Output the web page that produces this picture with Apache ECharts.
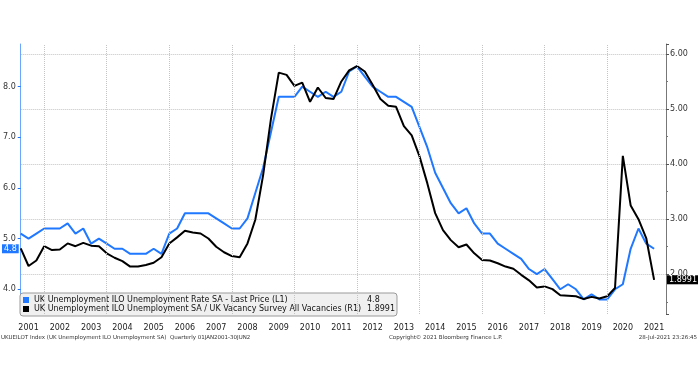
<!DOCTYPE html>
<html><head><meta charset="utf-8">
<script src="https://cdn.jsdelivr.net/npm/echarts@6/dist/echarts.min.js"></script>
<style>html,body{margin:0;padding:0;background:#fff}#c{width:698px;height:386px}</style>
</head><body><div id="c"></div>
<script>
// Quarterly, 2001 Q1 .. 2021 Q2
const unemploymentRate = [
  5.1, 5.0, 5.1, 5.2, 5.2, 5.2, 5.3, 5.1, 5.2, 4.9,
  5.0, 4.9, 4.8, 4.8, 4.7, 4.7, 4.7, 4.8, 4.7, 5.1,
  5.2, 5.5, 5.5, 5.5, 5.5, 5.4, 5.3, 5.2, 5.2, 5.4,
  5.9, 6.4, 7.1, 7.8, 7.8, 7.8, 8.0, 7.9, 7.8, 7.9,
  7.8, 7.9, 8.3, 8.4, 8.2, 8.0, 7.9, 7.8, 7.8, 7.7,
  7.6, 7.2, 6.8, 6.3, 6.0, 5.7, 5.5, 5.6, 5.3, 5.1,
  5.1, 4.9, 4.8, 4.7, 4.6, 4.4, 4.3, 4.4, 4.2, 4.0,
  4.1, 4.0, 3.8, 3.9, 3.8, 3.8, 4.0, 4.1, 4.8, 5.2,
  4.9, 4.8
];
const unemployedPerVacancy = [
  2.47, 2.15, 2.25, 2.51, 2.44, 2.45, 2.56, 2.51, 2.57, 2.52,
  2.51, 2.38, 2.30, 2.24, 2.14, 2.14, 2.17, 2.21, 2.31, 2.56,
  2.67, 2.79, 2.76, 2.74, 2.65, 2.50, 2.40, 2.33, 2.31, 2.56,
  2.99, 3.80, 4.82, 5.66, 5.62, 5.42, 5.48, 5.13, 5.39, 5.20,
  5.18, 5.50, 5.70, 5.78, 5.68, 5.44, 5.18, 5.06, 5.04, 4.69,
  4.52, 4.14, 3.65, 3.11, 2.80, 2.62, 2.49, 2.54, 2.38, 2.26,
  2.25, 2.20, 2.14, 2.10, 1.99, 1.89, 1.76, 1.78, 1.73, 1.62,
  1.61, 1.60, 1.55, 1.59, 1.56, 1.60, 1.75, 4.15, 3.25, 3.00,
  2.65, 1.8991
];
const yearLabels = ['2001','2002','2003','2004','2005','2006','2007','2008','2009','2010',
  '2011','2012','2013','2014','2015','2016','2017','2018','2019','2020','2021'];
const gridYears = [2002, 2004, 2006, 2008, 2010, 2012, 2014, 2016, 2018, 2020];
const seriesNames = [
  'UK Unemployment ILO Unemployment Rate SA - Last Price (L1)',
  'UK Unemployment ILO Unemployment SA / UK Vacancy Survey All Vacancies (R1)'
];
const lastLabels = ['4.8', '1.8991'];

const FONT = 'DejaVu Sans';
const BLUE = '#1f78ff';
const firstQuarterEnd = 2001.25;
const xs = unemploymentRate.map((_, i) => firstQuarterEnd + i * 0.25);

const chart = echarts.init(document.getElementById('c'));
chart.setOption({
  animation: false,
  backgroundColor: '#fff',
  grid: { left: 18, right: 32, top: 44, bottom: 72 },
  legend: {
    orient: 'vertical', left: 20, top: 293,
    padding: [3, 2, 3, 3], itemGap: 1,
    backgroundColor: '#f0f0f0', borderColor: '#9a9a9a', borderWidth: 1, borderRadius: 3,
    icon: 'rect', itemWidth: 6, itemHeight: 6,
    data: seriesNames,
    formatter: name => '{n|' + name + '}{v|' + lastLabels[seriesNames.indexOf(name)] + '}',
    textStyle: {
      fontFamily: FONT, fontSize: 8, color: '#111',
      rich: {
        n: { width: 333, fontFamily: FONT, fontSize: 8, color: '#111' },
        v: { fontFamily: FONT, fontSize: 8, color: '#111' }
      }
    }
  },
  xAxis: {
    type: 'value', min: 2001.25, max: 2021.88, interval: 0.25,
    axisLine: { show: false }, axisTick: { show: false }, splitLine: { show: false },
    axisLabel: {
      fontFamily: FONT, fontSize: 8, color: '#222', margin: 10, showMaxLabel: false,
      formatter: v => {
        const f = v - Math.floor(v);
        return Math.abs(f - 0.5) < 1e-6 ? (yearLabels[Math.floor(v) - 2001] || '') : '';
      }
    }
  },
  yAxis: [
    {
      type: 'value', position: 'left', min: 3.512, max: 8.843,
      axisLine: { show: true, lineStyle: { color: '#6aa6ff', width: 1 } },
      axisTick: { show: true, length: 3, lineStyle: { color: BLUE } },
      axisLabel: { fontFamily: FONT, fontSize: 8, color: '#333', margin: 5,
        showMinLabel: false, showMaxLabel: false, formatter: v => v.toFixed(1) },
      splitLine: { show: false }
    },
    {
      type: 'value', position: 'right', min: 1.279, max: 6.18,
      axisLine: { show: true, lineStyle: { color: '#777', width: 1 } },
      axisTick: { show: true, length: 3, lineStyle: { color: '#555' } },
      minorTick: { show: true, splitNumber: 2, length: 2, lineStyle: { color: '#777' } },
      axisLabel: { fontFamily: FONT, fontSize: 8, color: '#333', margin: 4,
        showMinLabel: false, showMaxLabel: false, formatter: v => v.toFixed(2) },
      splitLine: { show: true, showMinLine: false, showMaxLine: false,
        lineStyle: { type: 'dotted', color: '#c4c4c4', width: 1 } }
    }
  ],
  series: [
    {
      type: 'line', data: [], z: 1, silent: true,
      markLine: {
        silent: true, symbol: ['none', 'none'], label: { show: false },
        lineStyle: { type: 'dotted', color: '#c4c4c4', width: 1 },
        data: gridYears.map(y => ({ xAxis: y }))
      }
    },
    {
      name: seriesNames[0], type: 'line', yAxisIndex: 0, showSymbol: false, symbol: 'none',
      data: xs.map((x, i) => [x, unemploymentRate[i]]),
      lineStyle: { color: BLUE, width: 2 }, itemStyle: { color: BLUE }, z: 3,
      markLine: {
        silent: true, symbol: ['none', 'none'],
        lineStyle: { color: 'rgba(0,0,0,0)', width: 0 },
        data: [{ yAxis: unemploymentRate[unemploymentRate.length - 1] }],
        label: { show: true, position: 'start', distance: 2, formatter: lastLabels[0],
          backgroundColor: BLUE, color: '#fff', padding: [1, 2, 0, 2],
          fontFamily: FONT, fontSize: 8 }
      }
    },
    {
      name: seriesNames[1], type: 'line', yAxisIndex: 1, showSymbol: false, symbol: 'none',
      data: xs.map((x, i) => [x, unemployedPerVacancy[i]]),
      lineStyle: { color: '#000', width: 2 }, itemStyle: { color: '#000' }, z: 4,
      markLine: {
        silent: true, symbol: ['none', 'none'],
        lineStyle: { color: 'rgba(0,0,0,0)', width: 0 },
        data: [{ yAxis: unemployedPerVacancy[unemployedPerVacancy.length - 1] }],
        label: { show: true, position: 'end', distance: 1, formatter: lastLabels[1],
          backgroundColor: '#000', color: '#fff', padding: [1, 2, 0, 2],
          fontFamily: FONT, fontSize: 8 }
      }
    }
  ],
  graphic: [
    { type: 'text', left: 1, top: 335, style: { text: 'UKUEILOT Index (UK Unemployment ILO Unemployment SA)  Quarterly 01JAN2001-30JUN2',
      font: '5.5px "DejaVu Sans"', fill: '#333' } },
    { type: 'text', left: 389, top: 335, style: { text: 'Copyright\u00A9 2021 Bloomberg Finance L.P.',
      font: '5.5px "DejaVu Sans"', fill: '#333' } },
    { type: 'text', right: 1, top: 335, style: { text: '28-Jul-2021 23:26:45',
      font: '5.5px "DejaVu Sans"', fill: '#333' } }
  ]
});
</script>
</body></html>
